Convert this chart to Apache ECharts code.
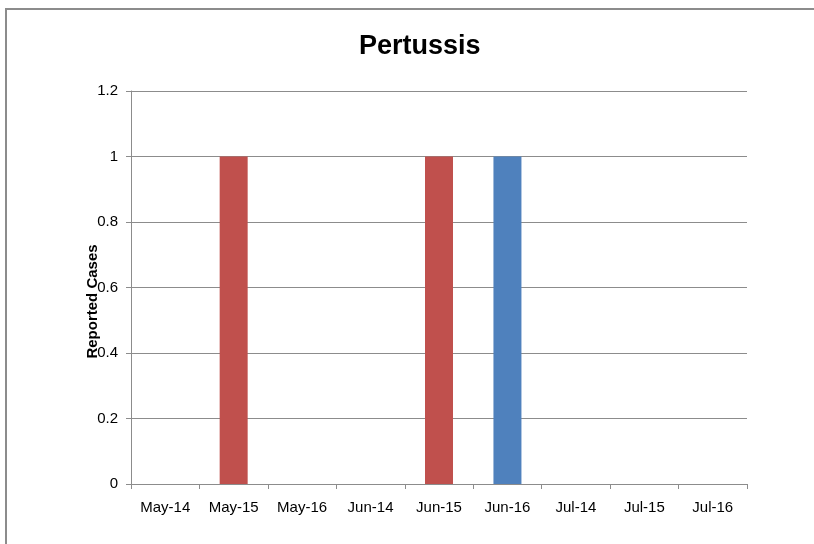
<!DOCTYPE html>
<html>
<head>
<meta charset="utf-8">
<script src="https://cdn.jsdelivr.net/npm/echarts@6/dist/echarts.min.js"></script>
<style>
html,body{margin:0;padding:0;background:#fff;}
#frame{position:absolute;left:5px;top:8px;width:820px;height:550px;border-left:2px solid #8c8c8c;border-top:2px solid #8c8c8c;box-sizing:border-box;}
#chart{position:absolute;left:0;top:0;width:814px;height:544px;}
</style>
</head>
<body>
<div id="frame"></div>
<div id="chart"></div>
<script>
const titleText = "Pertussis";
const yAxisName = "Reported Cases";
const categories = ["May-14","May-15","May-16","Jun-14","Jun-15","Jun-16","Jul-14","Jul-15","Jul-16"];
const redValues  = [0, 1, 0, 0, 1, 0, 0, 0, 0];
const blueValues = [0, 0, 0, 0, 0, 1, 0, 0, 0];
const yMin = 0, yMax = 1.2, yStep = 0.2;

const chart = echarts.init(document.getElementById('chart'), null, {renderer: 'canvas'});
const axisColor = '#8c8c8c';
const font = '"Liberation Sans", Arial, sans-serif';
chart.setOption({
  animation: false,
  backgroundColor: 'transparent',
  title: {
    text: titleText, left: 354, top: 28,
    textStyle: {fontFamily: font, fontSize: 27, fontWeight: 'bold', color: '#000'}
  },
  grid: {left: 131, right: 67, top: 91, bottom: 60, containLabel: false},
  xAxis: {
    type: 'category', data: categories,
    axisLine: {lineStyle: {color: axisColor, width: 1}},
    axisTick: {show: true, alignWithLabel: false, length: 5, lineStyle: {color: axisColor}},
    axisLabel: {color: '#000', fontFamily: font, fontSize: 15, margin: 16}
  },
  yAxis: {
    type: 'value', min: yMin, max: yMax, interval: yStep,
    name: yAxisName, nameLocation: 'middle', nameGap: 31, nameRotate: 90,
    nameMoveOverlap: false,
    nameTextStyle: {fontFamily: font, fontSize: 15, fontWeight: 'bold', color: '#000', padding: [0, 28, 0, 0]},
    axisLine: {show: true, lineStyle: {color: axisColor, width: 1}},
    axisTick: {show: true, length: 5, lineStyle: {color: axisColor}},
    splitLine: {show: true, lineStyle: {color: axisColor, width: 1}},
    axisLabel: {color: '#000', fontFamily: font, fontSize: 15, margin: 13,
      formatter: v => (Math.round(v*10)/10).toString()}
  },
  series: [
    {type: 'bar', stack: 's', data: redValues, barWidth: 28, itemStyle: {color: '#C0504D'}},
    {type: 'bar', stack: 's', data: blueValues, barWidth: 28, itemStyle: {color: '#4F81BD'}}
  ]
});
</script>
</body>
</html>
